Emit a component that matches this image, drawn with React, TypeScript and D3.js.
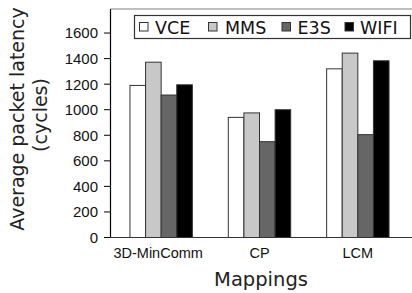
import React from "react";
import * as d3 from "d3";

const categories = ["3D-MinComm", "CP", "LCM"];
const seriesNames = ["VCE", "MMS", "E3S", "WIFI"];
const vceValues = [1190, 940, 1320];
const mmsValues = [1372, 975, 1443];
const e3sValues = [1115, 750, 805];
const wifiValues = [1195, 1000, 1383];
const yTicks = [0, 200, 400, 600, 800, 1000, 1200, 1400, 1600];
const seriesColors = ["#ffffff", "#c8c8c8", "#666666", "#000000"];

const W = 412;
const H = 293;

export default function App() {
  const series = [vceValues, mmsValues, e3sValues, wifiValues];
  const x = d3.scaleBand<string>().domain(categories).range([112, 407]);
  const y = d3.scaleLinear().domain([0, 1800]).range([237.5, 7.5]);
  const barW = 15.6;
  const groupW = barW * seriesNames.length;

  const legendItems = [
    { sq: 139.5, tx: 155 },
    { sq: 208.5, tx: 225 },
    { sq: 282, tx: 297.5 },
    { sq: 345, tx: 360 },
  ];

  return (
    <svg width={W} height={H} style={{ position: "absolute", left: 0, top: 0, background: "#fff" }}>
      <rect x={0} y={0} width={W} height={H} fill="#fff" />
      {/* top frame line */}
      <line x1={110.5} x2={W} y1={9} y2={9} stroke="#808080" strokeWidth={1.2} />
      {/* bars */}
      {categories.map((c, ci) => {
        const cx = (x(c) as number) + x.bandwidth() / 2;
        const start = cx - groupW / 2;
        return series.map((vals, si) => (
          <rect
            key={c + si}
            x={start + si * barW}
            y={y(vals[ci])}
            width={barW}
            height={y(0) - y(vals[ci])}
            fill={seriesColors[si]}
            stroke="#333"
            strokeWidth={1}
          />
        ));
      })}
      {/* y axis */}
      <line x1={110.5} x2={110.5} y1={9} y2={y(0)} stroke="#000" strokeWidth={1.2} />
      {yTicks.map((t) => (
        <g key={t}>
          <line x1={104} x2={110.5} y1={y(t)} y2={y(t)} stroke="#000" strokeWidth={1} />
          <text
            x={98}
            y={y(t)}
            dy="0.36em"
            textAnchor="end"
            fontFamily="Liberation Sans, Arial, sans-serif"
            fontSize={15}
            fill="#111"
          >
            {t}
          </text>
        </g>
      ))}
      {/* x axis */}
      <line x1={110.5} x2={W} y1={y(0)} y2={y(0)} stroke="#333" strokeWidth={1.2} />
      {categories.map((c) => (
        <text
          key={c}
          x={(x(c) as number) + x.bandwidth() / 2 - (c === categories[0] ? 3 : 0)}
          y={258}
          textAnchor="middle"
          fontFamily="Liberation Sans, Arial, sans-serif"
          fontSize={14.5}
          fill="#111"
        >
          {c}
        </text>
      ))}
      {/* axis titles */}
      <text
        x={261}
        y={286}
        textAnchor="middle"
        fontFamily="DejaVu Sans, Verdana, sans-serif"
        fontSize={19.5}
        fill="#222"
      >
        Mappings
      </text>
      <text
        transform="translate(24,119) rotate(-90)"
        textAnchor="middle"
        fontFamily="DejaVu Sans, Verdana, sans-serif"
        fontSize={19}
        fill="#222"
      >
        Average packet latency
      </text>
      <text
        transform="translate(46.5,115) rotate(-90)"
        textAnchor="middle"
        fontFamily="DejaVu Sans, Verdana, sans-serif"
        fontSize={19}
        fill="#222"
      >
        (cycles)
      </text>
      {/* legend */}
      <rect x={134.5} y={15.5} width={276} height={23} fill="#fff" stroke="#333" strokeWidth={1.2} />
      {seriesNames.map((n, i) => (
        <g key={n}>
          <rect
            x={legendItems[i].sq}
            y={22.5}
            width={8.5}
            height={8.5}
            fill={seriesColors[i]}
            stroke="#333"
            strokeWidth={1}
          />
          <text
            x={legendItems[i].tx}
            y={33.5}
            fontFamily="DejaVu Sans, Verdana, sans-serif"
            fontSize={17.5}
            fill="#111"
          >
            {n}
          </text>
        </g>
      ))}
    </svg>
  );
}
